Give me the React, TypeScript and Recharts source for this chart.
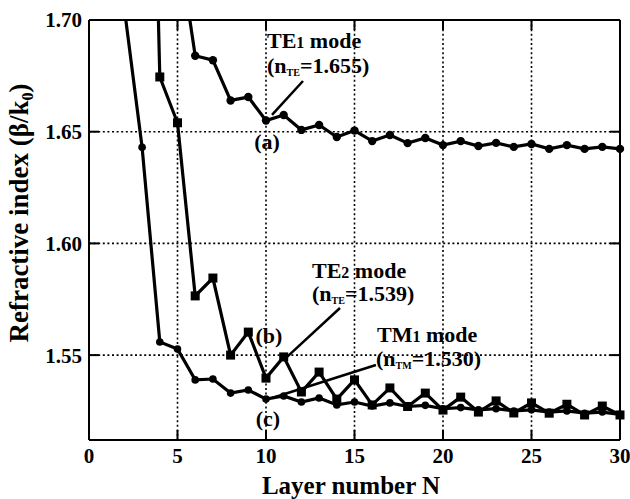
import React from 'react';
import { LineChart, Line, XAxis, YAxis, CartesianGrid, ReferenceLine } from 'recharts';

const SERIF = '"Liberation Serif", "Times New Roman", serif';

// Layer number N
const layers = [2, 3, 4, 5, 6, 7, 8, 9, 10, 11, 12, 13, 14, 15, 16, 17, 18, 19, 20, 21, 22, 23, 24, 25, 26, 27, 28, 29, 30];
// (a) TE1 mode
const te1 = [null, null, null, 1.737, 1.684, 1.682, 1.664, 1.6655, 1.655, 1.6575, 1.6508, 1.653, 1.6476, 1.6505, 1.6458, 1.6485, 1.6449, 1.6472, 1.644, 1.6458, 1.6436, 1.645, 1.6432, 1.6445, 1.6423, 1.644, 1.6423, 1.6432, 1.6423];
// (b) TE2 mode
const te2 = [null, 2.0, 1.6745, 1.654, 1.5765, 1.5845, 1.55, 1.5603, 1.5397, 1.5492, 1.5335, 1.5424, 1.5303, 1.5389, 1.5277, 1.5353, 1.527, 1.533, 1.5254, 1.5312, 1.5245, 1.5295, 1.5241, 1.5286, 1.524, 1.528, 1.5232, 1.5272, 1.5232];
// (c) TM1 mode
const tm1 = [1.705, 1.643, 1.5559, 1.5527, 1.5389, 1.5393, 1.533, 1.5344, 1.5303, 1.5317, 1.529, 1.5308, 1.5277, 1.529, 1.5272, 1.5286, 1.527, 1.5275, 1.526, 1.5265, 1.5255, 1.526, 1.525, 1.5255, 1.5245, 1.525, 1.524, 1.5245, 1.5235];

const xTicks = [0, 5, 10, 15, 20, 25, 30];
const yTicks = [1.55, 1.6, 1.65, 1.7];
const xDomain = [0, 30];
const yDomain = [1.512, 1.7];

const data = layers.map((n, i) => ({ n, a: te1[i], b: te2[i], c: tm1[i] }));

const circleDot = (r: number) => (props: any) => {
  const { cx, cy, value, index } = props;
  if (value == null || cx == null || cy == null) return <g key={`e${index}`} />;
  return <circle key={`d${index}`} cx={cx} cy={cy} r={r} fill="#000" />;
};
const squareDot = (props: any) => {
  const { cx, cy, value, index } = props;
  if (value == null || cx == null || cy == null) return <g key={`e${index}`} />;
  return <rect key={`s${index}`} x={cx - 4.5} y={cy - 4.5} width={9} height={9} fill="#000" />;
};

const emptyTick = () => <g />;

const tickStyle = { fontFamily: SERIF, fontWeight: 'bold', fontSize: 21, fill: '#000' };
const axisLine = { stroke: '#000', strokeWidth: 2 };
const tickLine = { stroke: '#000', strokeWidth: 2 };

const T: React.CSSProperties = { fontFamily: SERIF, fontWeight: 'bold' } as any;

export default function App() {
  return (
    <div style={{ position: 'absolute', left: 0, top: 0, width: 630, height: 499, background: '#fff' }}>
      <LineChart width={630} height={499} data={data} margin={{ top: 0, right: 0, bottom: 0, left: 29 }}>
        <CartesianGrid stroke="#000" strokeWidth={1.6} strokeDasharray="2 2.6" />
        <XAxis dataKey="n" type="number" domain={xDomain} ticks={xTicks} interval={0}
          tick={tickStyle} tickSize={-10} tickMargin={18} height={59}
          axisLine={axisLine} tickLine={tickLine} />
        <XAxis xAxisId="top" orientation="top" dataKey="n" type="number" domain={xDomain} ticks={xTicks}
          interval={0} tick={emptyTick} tickSize={-10} height={20} axisLine={axisLine} tickLine={tickLine} />
        <YAxis type="number" domain={yDomain} ticks={yTicks} interval={0} allowDataOverflow
          tick={tickStyle} tickSize={-10} tickMargin={17} width={60}
          tickFormatter={(v: number) => v.toFixed(2)} axisLine={axisLine} tickLine={tickLine} />
        <YAxis yAxisId="r" orientation="right" type="number" domain={yDomain} ticks={yTicks} interval={0}
          allowDataOverflow tick={emptyTick} tickSize={-10} width={10} axisLine={axisLine} tickLine={tickLine} />
        <Line dataKey="a" stroke="#000" strokeWidth={3.2} dot={circleDot(4.2)} isAnimationActive={false} connectNulls={false} />
        <Line dataKey="b" stroke="#000" strokeWidth={3.2} dot={squareDot} isAnimationActive={false} connectNulls={false} />
        <Line dataKey="c" stroke="#000" strokeWidth={3.2} dot={circleDot(3.8)} isAnimationActive={false} connectNulls={false} />
        <ReferenceLine segment={[{ x: 12.09, y: 1.6727 }, { x: 10.34, y: 1.6575 }]} stroke="#000" strokeWidth={2.5} ifOverflow="visible" />
        <ReferenceLine segment={[{ x: 14.18, y: 1.5711 }, { x: 11.19, y: 1.5492 }]} stroke="#000" strokeWidth={2.5} ifOverflow="visible" />
        <ReferenceLine segment={[{ x: 16.21, y: 1.5456 }, { x: 10.34, y: 1.5308 }]} stroke="#000" strokeWidth={2.5} ifOverflow="visible" />
      </LineChart>
      <svg width={630} height={499} style={{ position: 'absolute', left: 0, top: 0, pointerEvents: 'none' }}>
        <g style={T} fill="#000">
          <text x={267} y={48} fontSize={22}>TE<tspan fontSize={16}>1</tspan> mode</text>
          <text x={267} y={73} fontSize={22}>(n<tspan fontSize={10} dy={3}>TE</tspan><tspan dy={-3}>=1.655)</tspan></text>
          <text x={267} y={149} fontSize={22} textAnchor="middle">(a)</text>

          <text x={312} y={278} fontSize={22}>TE<tspan fontSize={16}>2</tspan> mode</text>
          <text x={312} y={301} fontSize={22}>(n<tspan fontSize={10} dy={3}>TE</tspan><tspan dy={-3}>=1.539)</tspan></text>
          <text x={269} y={343} fontSize={22} textAnchor="middle">(b)</text>

          <text x={377} y={342} fontSize={22}>TM<tspan fontSize={16}>1</tspan> mode</text>
          <text x={376} y={366} fontSize={22}>(n<tspan fontSize={10} dy={3}>TM</tspan><tspan dy={-3}>=1.530)</tspan></text>
          <text x={268} y={426} fontSize={22} textAnchor="middle">(c)</text>

          <text x={351} y={494} fontSize={25} textAnchor="middle">Layer number N</text>
          <text transform="translate(28,213) rotate(-90)" fontSize={27} textAnchor="middle">
            Refractive index (β/k<tspan fontSize={16} dy={5}>0</tspan><tspan dy={-5}>)</tspan>
          </text>
        </g>
      </svg>
    </div>
  );
}
